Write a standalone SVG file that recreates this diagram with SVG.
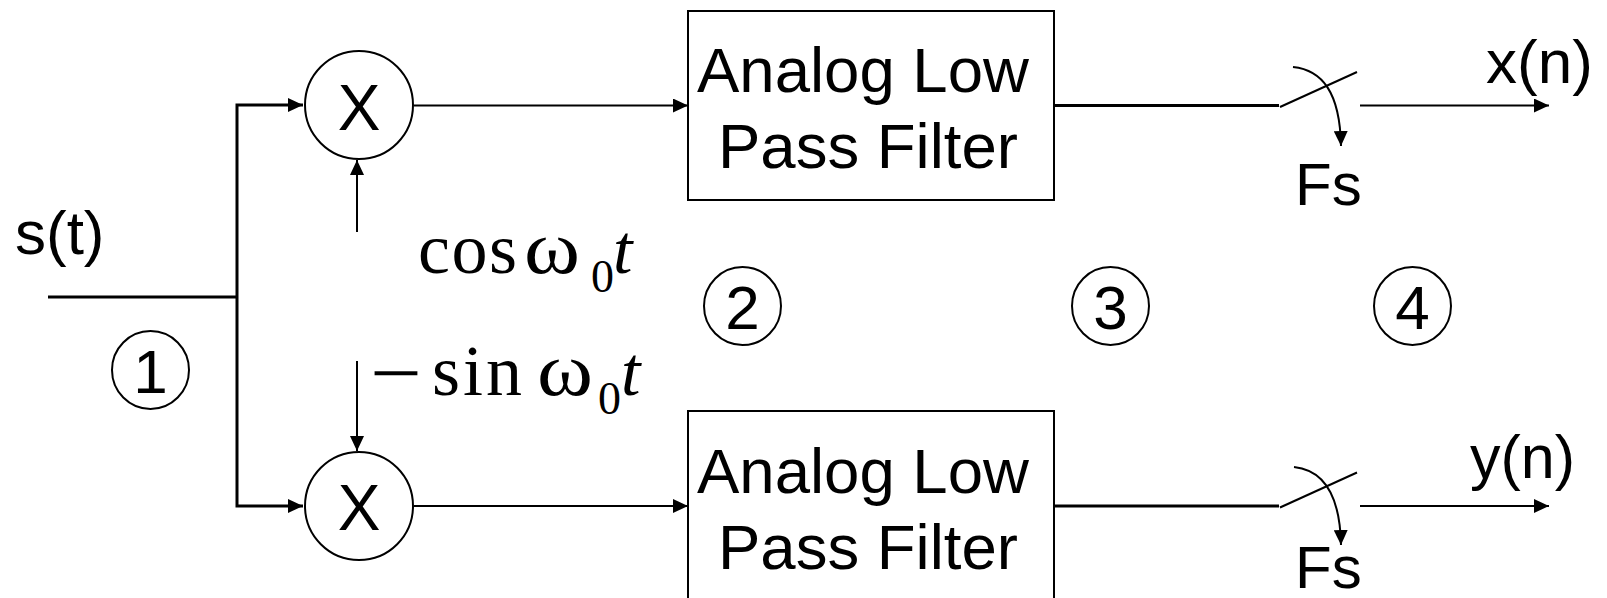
<svg xmlns="http://www.w3.org/2000/svg" width="1607" height="598" viewBox="0 0 1607 598">
<style>
.sans{font-family:"Liberation Sans",Arial,sans-serif;fill:#000}
.serif{font-family:"Liberation Serif","Times New Roman",serif;fill:#000}
.ln{fill:none;stroke:#000;stroke-width:2}
.thick{stroke-width:3}
.shape{fill:#fff;stroke:#000;stroke-width:2}
.num{fill:none;stroke:#000;stroke-width:2}
</style>
<defs>
<marker id="ah" markerUnits="userSpaceOnUse" markerWidth="15" markerHeight="14" refX="15" refY="7" orient="auto">
<path d="M0,0 L15,7 L0,14 z" fill="#000"/>
</marker>
</defs>
<rect width="1607" height="598" fill="#fff"/>

<g id="connectors">
<path class="ln thick" d="M48,297 H237"/>
<path class="ln thick" d="M237,297 V105 H303" marker-end="url(#ah)"/>
<path class="ln thick" d="M237,297 V506 H303" marker-end="url(#ah)"/>
<path class="ln" d="M357,232 V160" marker-end="url(#ah)"/>
<path class="ln" d="M357,361 V451" marker-end="url(#ah)"/>
<path class="ln" d="M414,105.5 H688" marker-end="url(#ah)"/>
<path class="ln" d="M414,506 H688" marker-end="url(#ah)"/>
<path class="ln thick" d="M1055,105.5 H1279"/>
<path class="ln thick" d="M1055,506 H1279"/>
<path class="ln" d="M1360,105.5 H1549" marker-end="url(#ah)"/>
<path class="ln" d="M1360,506 H1549" marker-end="url(#ah)"/>
</g>

<g id="input-label">
<text class="sans" x="15" y="254" font-size="62">s(t)</text>
</g>

<g id="mixer-i">
<circle class="shape" cx="359" cy="105" r="54"/>
<text class="sans" x="359" y="130" font-size="64" text-anchor="middle">X</text>
</g>
<g id="mixer-q">
<circle class="shape" cx="359" cy="506" r="54"/>
<text class="sans" x="359" y="530" font-size="64" text-anchor="middle">X</text>
</g>

<g id="cos-label">
<text class="serif" x="418" y="273" font-size="72" textLength="99" lengthAdjust="spacing">cos</text>
<text class="serif" transform="translate(524,273) scale(1.12,1)" font-size="76">ω</text>
<text class="serif" x="591" y="292" font-size="46">0</text>
<text class="serif" x="613" y="273" font-size="70" font-style="italic">t</text>
</g>
<g id="sin-label">
<text class="serif" transform="translate(370,400) scale(1.15,1)" font-size="80">−</text>
<text class="serif" x="432" y="395" font-size="72" textLength="90" lengthAdjust="spacing">sin</text>
<text class="serif" transform="translate(537,395) scale(1.12,1)" font-size="76">ω</text>
<text class="serif" x="598" y="414" font-size="46">0</text>
<text class="serif" x="621" y="395" font-size="70" font-style="italic">t</text>
</g>

<g id="lpf-i">
<rect class="shape" x="688" y="11" width="366" height="189"/>
<text class="sans" x="697" y="91.5" font-size="63.5">Analog Low</text>
<text class="sans" x="718" y="168" font-size="63.5">Pass Filter</text>
</g>
<g id="lpf-q">
<rect class="shape" x="688" y="411" width="366" height="189"/>
<text class="sans" x="697" y="492.5" font-size="63.5">Analog Low</text>
<text class="sans" x="718" y="569" font-size="63.5">Pass Filter</text>
</g>

<g id="sampler-i">
<path class="ln" d="M1280,107 L1357,72"/>
<path class="ln" d="M1293,67 C1322,70 1340,92 1341,146" marker-end="url(#ah)"/>
<text class="sans" x="1295" y="205" font-size="60">Fs</text>
</g>
<g id="sampler-q">
<path class="ln" d="M1280,507.5 L1357,472.5"/>
<path class="ln" d="M1294,467 C1322,470 1340,492 1341,545" marker-end="url(#ah)"/>
<text class="sans" x="1295" y="588" font-size="60">Fs</text>
</g>

<g id="out-x">
<text class="sans" x="1486" y="83" font-size="62">x(n)</text>
</g>
<g id="out-y">
<text class="sans" x="1470" y="478" font-size="61">y(n)</text>
</g>

<g id="stage-1">
<ellipse class="num" cx="150.5" cy="370" rx="38.5" ry="39"/>
<text class="sans" x="150.5" y="393" font-size="62" text-anchor="middle">1</text>
</g>
<g id="stage-2">
<ellipse class="num" cx="742.5" cy="306" rx="38.5" ry="39"/>
<text class="sans" x="742.5" y="329" font-size="62" text-anchor="middle">2</text>
</g>
<g id="stage-3">
<ellipse class="num" cx="1110.5" cy="306" rx="38.5" ry="39"/>
<text class="sans" x="1110.5" y="329" font-size="62" text-anchor="middle">3</text>
</g>
<g id="stage-4">
<ellipse class="num" cx="1412.5" cy="306" rx="38.5" ry="39"/>
<text class="sans" x="1412.5" y="329" font-size="62" text-anchor="middle">4</text>
</g>
</svg>
